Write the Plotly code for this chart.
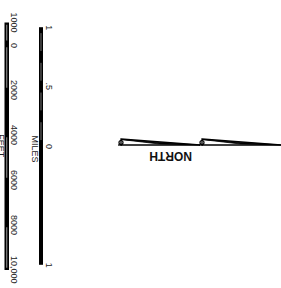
import plotly.graph_objects as go

# ---- data ----
feet_values = [-1000, 0, 2000, 4000, 6000, 8000, 10000]
feet_labels = ["1000", "0", "2000", "4000", "6000", "8000", "10,000"]
mile_values = [-1, -0.5, 0, 1]
mile_labels = ["1", ".5", "0", "1"]
feet_title = "FEET"
miles_title = "MILES"
north_label = "NORTH"
FT_PER_MILE = 5280
MILE_ZERO_FT = 4489  # where 0 mile sits on the feet axis

fig = go.Figure()
fig.add_trace(go.Scatter(x=[0], y=[0], mode="markers", marker=dict(opacity=0), hoverinfo="skip", showlegend=False))

shapes = []
ann = []
txt = dict(family="Liberation Sans, Arial, sans-serif", size=9, color="#222")

# Feet bar
fx0, fx1 = 4.5, 9
shapes.append(dict(type="rect", x0=fx0, x1=fx1, y0=feet_values[0], y1=feet_values[-1],
                   fillcolor="black", line=dict(width=0)))
stripe_segs = [(-900, -200), (100, 1900), (4100, 5900), (8100, 9900)]
for a, b in stripe_segs:
    shapes.append(dict(type="line", x0=(fx0 + fx1) / 2, x1=(fx0 + fx1) / 2, y0=a, y1=b,
                       line=dict(color="#ddd", width=0.7)))
for v, l in zip(feet_values, feet_labels):
    ann.append(dict(x=14, y=v, text=l, textangle=90, showarrow=False, font=txt,
                    xanchor="center", yanchor="middle"))
ann.append(dict(x=1, y=4500, text=feet_title, textangle=90, showarrow=False, font=txt,
                xanchor="center", yanchor="middle"))

# Miles bar
mx0, mx1 = 39, 43
m2f = lambda m: MILE_ZERO_FT + m * FT_PER_MILE
shapes.append(dict(type="rect", x0=mx0, x1=mx1, y0=m2f(mile_values[0]), y1=m2f(mile_values[-1]),
                   fillcolor="black", line=dict(width=0)))
for a, b in [(-0.95, -0.8), (-0.7, -0.55), (-0.45, -0.3), (-0.2, -0.05)]:
    shapes.append(dict(type="line", x0=(mx0 + mx1) / 2, x1=(mx0 + mx1) / 2, y0=m2f(a), y1=m2f(b),
                       line=dict(color="#aaa", width=0.7)))
for v, l in zip(mile_values, mile_labels):
    ann.append(dict(x=49, y=m2f(v), text=l, textangle=90, showarrow=False, font=txt,
                    xanchor="center", yanchor="middle"))
ann.append(dict(x=35, y=m2f(0.02), text=miles_title, textangle=90, showarrow=False, font=txt,
                xanchor="center", yanchor="middle"))

# North arrows (in feet-axis units for y)
ypx = lambda p: (p - 45) / 22.5 * 1000
for tail, tip in [(119, 200), (200, 281)]:
    shapes.append(dict(type="path",
                       path=f"M {tail+2},{ypx(139)} L {tip},{ypx(145)} L {tail+2},{ypx(145)} Z",
                       fillcolor="white", line=dict(color="black", width=1.3)))
    shapes.append(dict(type="path",
                       path=f"M {tail+2},{ypx(139.5)} L {(tail+tip)/2},{ypx(142.5)} L {tip},{ypx(145)} L {(tail+tip)/2},{ypx(144)} Z",
                       fillcolor="black", line=dict(color="black", width=0.8)))
    shapes.append(dict(type="circle", x0=tail, x1=tail + 4, y0=ypx(140.5), y1=ypx(144.5),
                       line=dict(color="black", width=1.2)))
    shapes.append(dict(type="line", x0=tail - 1, x1=tail + 3, y0=ypx(145), y1=ypx(145),
                       line=dict(color="black", width=1.3)))
ann.append(dict(x=171, y=ypx(156), text=f"<b>{north_label}</b>", textangle=180, showarrow=False,
                font=dict(family="Liberation Sans, Arial, sans-serif", size=12, color="#111"),
                xanchor="center", yanchor="middle"))

fig.update_layout(
    width=281, height=288, margin=dict(l=0, r=0, t=0, b=0),
    paper_bgcolor="white", plot_bgcolor="white",
    xaxis=dict(range=[0, 281], visible=False, fixedrange=True),
    yaxis=dict(range=[ypx(288), ypx(0)], visible=False, fixedrange=True),
    shapes=shapes, annotations=ann, showlegend=False,
)
fig.write_html("out.html", config={"displayModeBar": False},
               post_script="document.body.style.margin='0';document.body.style.overflow='hidden';")
